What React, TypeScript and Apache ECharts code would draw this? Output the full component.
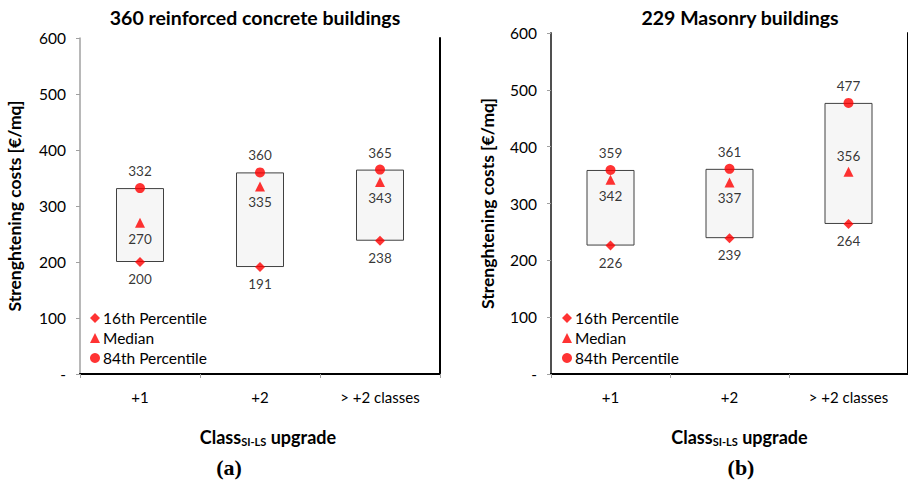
import React, { useEffect, useRef } from "react";
import * as echarts from "echarts";

const categories = ["+1", "+2", "> +2 classes"];
const yTicks = [0, 100, 200, 300, 400, 500, 600];

const rcP16 = [200, 191, 238];
const rcMedian = [270, 335, 343];
const rcP84 = [332, 360, 365];

const masP16 = [226, 239, 264];
const masMedian = [342, 337, 356];
const masP84 = [359, 361, 477];
// label side for the median marker of each box
const rcMedianLabelPos = ["bottom", "bottom", "bottom"];
const masMedianLabelPos = ["bottom", "bottom", "top"];

const legendNames = ["16th Percentile", "Median", "84th Percentile"];

const FONT = "Lato, 'Open Sans', sans-serif";
const RED = "#ff0000";

function panelSeries(
  idx: number,
  p16: number[],
  med: number[],
  p84: number[],
  medPos: string[]
) {
  const lbl = { fontFamily: FONT, fontSize: 13.5, color: "#000" };
  return [
    {
      type: "bar",
      name: "base" + idx,
      xAxisIndex: idx * 2,
      yAxisIndex: idx * 2,
      stack: "box" + idx,
      barWidth: 48,
      silent: true,
      itemStyle: { color: "transparent" },
      data: p16,
    },
    {
      type: "bar",
      name: "range" + idx,
      xAxisIndex: idx * 2,
      yAxisIndex: idx * 2,
      stack: "box" + idx,
      barWidth: 48,
      itemStyle: { color: "#f6f6f6", borderColor: "#404040", borderWidth: 1 },
      data: p84.map((v, i) => v - p16[i]),
    },
    {
      type: "scatter",
      name: legendNames[0],
      xAxisIndex: idx * 2,
      yAxisIndex: idx * 2,
      symbol: "diamond",
      symbolSize: 10,
      itemStyle: { color: RED },
      label: { show: true, position: "bottom", distance: 5, ...lbl },
      data: p16,
      z: 5,
    },
    {
      type: "scatter",
      name: legendNames[1],
      xAxisIndex: idx * 2,
      yAxisIndex: idx * 2,
      symbol: "triangle",
      symbolSize: 10,
      itemStyle: { color: RED },
      label: { show: true, distance: 4, ...lbl },
      data: med.map((v, i) => ({
        value: v,
        label: { position: medPos[i] },
      })),
      z: 5,
    },
    {
      type: "scatter",
      name: legendNames[2],
      xAxisIndex: idx * 2,
      yAxisIndex: idx * 2,
      symbol: "circle",
      symbolSize: 10,
      itemStyle: { color: RED },
      label: { show: true, position: "top", distance: 5, ...lbl },
      data: p84,
      z: 5,
    },
  ];
}

export default function App() {
  const ref = useRef<HTMLDivElement>(null);
  useEffect(() => {
    if (!ref.current) return;
    const chart = echarts.init(ref.current, null, { renderer: "svg" });
    const grids = [
      { left: 80, top: 38, width: 360, height: 336 },
      { left: 551, top: 33, width: 360, height: 341 },
    ];
    const axisColors = [
      { y: "#a0a0a0", x: "#808080" },
      { y: "#505050", x: "#404040" },
    ];
    const xAxes: any[] = [];
    const yAxes: any[] = [];
    [0, 1].forEach((i) => {
      xAxes.push({
        type: "category",
        gridIndex: i,
        data: categories,
        position: "bottom",
        axisLine: { show: true, lineStyle: { color: axisColors[i].x, width: 2 } },
        axisTick: { show: true, length: 4, lineStyle: { color: "#a0a0a0" } },
        axisLabel: { fontFamily: FONT, fontSize: 15, color: "#000", margin: 15 },
        name: "{a|Class}{b|SI-LS}{a| upgrade}",
        nameLocation: "middle",
        nameGap: 52,
        nameTextStyle: {
          padding: [0, 0, 0, i === 0 ? 16 : 20],
          rich: {
            a: { fontFamily: FONT, fontSize: 18, fontWeight: "bold", color: "#000" },
            b: {
              fontFamily: FONT,
              fontSize: 11,
              fontWeight: "bold",
              color: "#000",
              padding: [10, 0, 0, 0],
            },
          },
        },
      });
      xAxes.push({
        type: "category",
        gridIndex: i,
        data: categories,
        position: "top",
        axisLine: { show: true, lineStyle: { color: "#000", width: 2 } },
        axisTick: { show: false },
        axisLabel: { show: false },
      });
      yAxes.push({
        type: "value",
        gridIndex: i,
        min: 0,
        max: 600,
        interval: 100,
        position: "left",
        splitLine: { show: false },
        axisLine: { show: true, lineStyle: { color: axisColors[i].y, width: i === 0 ? 1.5 : 2 } },
        axisTick: { show: true, length: 4, lineStyle: { color: "#a0a0a0" } },
        axisLabel: {
          fontFamily: FONT,
          fontSize: 15.5,
          color: "#000",
          margin: 14,
          formatter: (v: number) => (v === yTicks[0] ? "-" : String(v)),
        },
        name: "Strenghtening costs [€/mq]",
        nameLocation: "middle",
        nameGap: i === 0 ? 57 : 55,
        nameTextStyle: { fontFamily: FONT, fontSize: 17.5, fontWeight: "bold", color: "#000" },
      });
      yAxes.push({
        type: "value",
        gridIndex: i,
        min: 0,
        max: 600,
        interval: 100,
        position: "right",
        splitLine: { show: false },
        axisLine: { show: true, lineStyle: { color: "#000", width: 2 } },
        axisTick: { show: false },
        axisLabel: { show: false },
      });
    });

    const legendBase = {
      orient: "vertical",
      data: legendNames,
      itemWidth: 10,
      itemHeight: 10,
      itemGap: 4,
      textStyle: { fontFamily: FONT, fontSize: 15.5, color: "#000", padding: [0, 0, 0, -2] },
      selectedMode: false,
      padding: 0,
    };

    chart.setOption({
      animation: false,
      backgroundColor: "#fff",
      grid: grids,
      xAxis: xAxes,
      yAxis: yAxes,
      legend: [
        { ...legendBase, left: 90, top: 310 },
        { ...legendBase, left: 562, top: 310 },
      ],
      series: [
        ...panelSeries(0, rcP16, rcMedian, rcP84, rcMedianLabelPos),
        ...panelSeries(1, masP16, masMedian, masP84, masMedianLabelPos),
      ],
      graphic: [
        {
          type: "text",
          x: 255,
          y: 17,
          style: {
            text: "360 reinforced concrete buildings",
            fontFamily: FONT,
            fontSize: 19.5,
            fontWeight: "bold",
            fill: "#000",
            textAlign: "center",
            textVerticalAlign: "middle",
          },
        },
        {
          type: "text",
          x: 740,
          y: 17,
          style: {
            text: "229 Masonry buildings",
            fontFamily: FONT,
            fontSize: 19.5,
            fontWeight: "bold",
            fill: "#000",
            textAlign: "center",
            textVerticalAlign: "middle",
          },
        },
        {
          type: "text",
          x: 229,
          y: 467,
          style: {
            text: "(a)",
            fontFamily: "'Liberation Serif', serif",
            fontSize: 22,
            fontWeight: "bold",
            fill: "#000",
            textAlign: "center",
            textVerticalAlign: "middle",
          },
        },
        {
          type: "text",
          x: 741,
          y: 467,
          style: {
            text: "(b)",
            fontFamily: "'Liberation Serif', serif",
            fontSize: 22,
            fontWeight: "bold",
            fill: "#000",
            textAlign: "center",
            textVerticalAlign: "middle",
          },
        },
      ],
    });
    return () => chart.dispose();
  }, []);
  return (
    <div
      ref={ref}
      style={{ position: "fixed", left: 0, top: 0, width: 908, height: 483 }}
    />
  );
}
